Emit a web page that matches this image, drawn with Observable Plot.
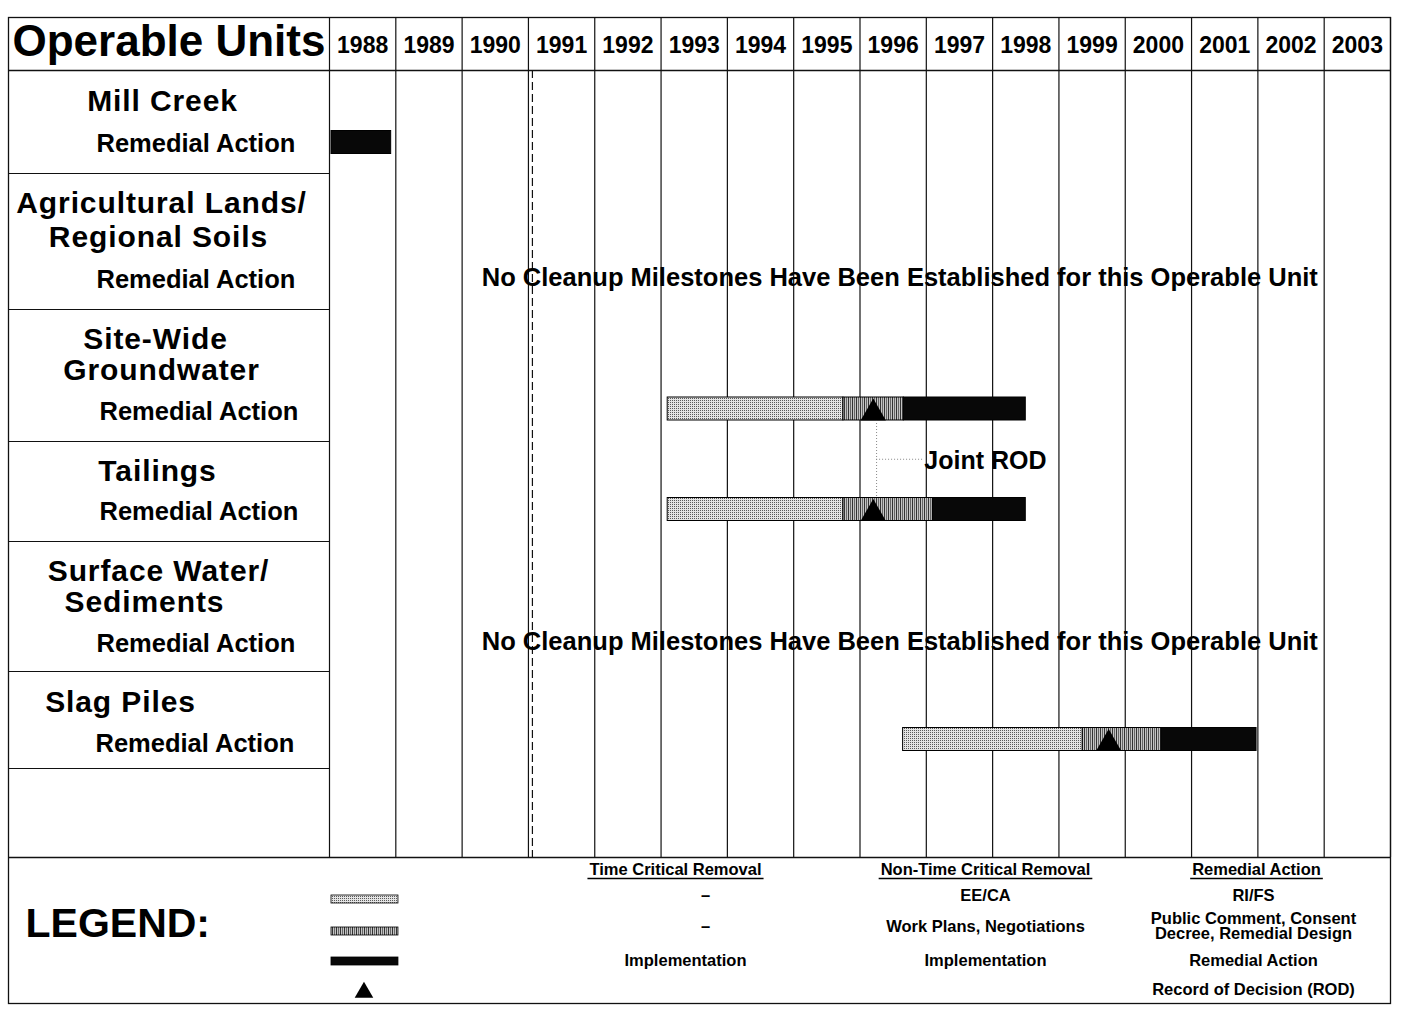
<!DOCTYPE html>
<html><head><meta charset="utf-8">
<script src="https://cdn.jsdelivr.net/npm/d3@7"></script>
<script src="https://cdn.jsdelivr.net/npm/@observablehq/plot@0.6"></script>
<style>html,body{margin:0;padding:0;background:#fff}svg{display:block}</style>
</head><body><div id="chart"></div>
<script>
// ---------------- DATA ----------------
const yearLabels = ["1988","1989","1990","1991","1992","1993","1994","1995","1996","1997","1998","1999","2000","2001","2002","2003"];
const units = ["Mill Creek","Agricultural Lands/Regional Soils","Site-Wide Groundwater","Tailings","Surface Water/Sediments","Slag Piles"];
const unitTitleLines = [["Mill Creek"],["Agricultural Lands/","Regional Soils"],["Site-Wide","Groundwater"],["Tailings"],["Surface Water/","Sediments"],["Slag Piles"]];
const unitSubtitle = "Remedial Action";
const barUnit  = ["Mill Creek","Site-Wide Groundwater","Site-Wide Groundwater","Site-Wide Groundwater","Tailings","Tailings","Tailings","Slag Piles","Slag Piles","Slag Piles"];
const barPhase = ["implementation","study","design","implementation","study","design","implementation","study","design","implementation"];
const barStart = [1988.03, 1993.1, 1995.75, 1996.66, 1993.1, 1995.75, 1997.1, 1996.65, 1999.36, 2000.55];
const barEnd   = [1988.93, 1995.75, 1996.66, 1998.5, 1995.75, 1997.1, 1998.5, 1999.36, 2000.55, 2001.98];
const rodUnit = ["Site-Wide Groundwater","Tailings","Slag Piles"];
const rodYear = [1996.2, 1996.2, 1999.75];
const noMilestoneUnits = ["Agricultural Lands/Regional Soils","Surface Water/Sediments"];
const noMilestoneText = "No Cleanup Milestones Have Been Established for this Operable Unit";
const referenceYear = 1991.06;
const jointRodYear = 1996.25;
const jointRodLabel = "Joint ROD";
const legendColumns = ["Time Critical Removal","Non-Time Critical Removal","Remedial Action"];
const legendTimeCritical = ["–","–","Implementation",""];
const legendNonTimeCritical = ["EE/CA","Work Plans, Negotiations","Implementation",""];
const legendRemedial = ["RI/FS","Public Comment, Consent\nDecree, Remedial Design","Remedial Action","Record of Decision (ROD)"];

// ---------------- LAYOUT ----------------
const W = 1421, H = 1015;
const ML = 8, MT = 17, MR = 31, MB = 12;
const X0 = 329, X1 = 1390;
const FONT = "'Liberation Sans', Arial, Helvetica, sans-serif";
const headerBottom = 70, tableBottom = 857;
const rowSeps = [173, 309, 441, 541, 671, 768];
const titleLayout = {
  "Mill Creek": [[162,101]],
  "Agricultural Lands/Regional Soils": [[161,203],[158,237]],
  "Site-Wide Groundwater": [[155,339],[161,370]],
  "Tailings": [[157,471]],
  "Surface Water/Sediments": [[158,571],[144,602]],
  "Slag Piles": [[120,702]]
};
const subLayout = {"Mill Creek":[96,144],"Agricultural Lands/Regional Soils":[96,280],"Site-Wide Groundwater":[99,412],"Tailings":[99,512],"Surface Water/Sediments":[96,644],"Slag Piles":[95,744]};
const barY = {"Mill Creek":142,"Agricultural Lands/Regional Soils":277,"Site-Wide Groundwater":408.5,"Tailings":509,"Surface Water/Sediments":641,"Slag Piles":739};
const BH = 23;
const TITLE_SIZE = 30;
const phaseFill = {study:"url(#stip)", design:"url(#hatch)", implementation:"#080808"};

const bars = barUnit.map((u,i)=>({unit:u, phase:barPhase[i], start:barStart[i], end:barEnd[i]}));
const rods = rodUnit.map((u,i)=>({unit:u, year:rodYear[i]}));
const yearEdges = yearLabels.map(Number).concat([+yearLabels[yearLabels.length-1]+1]);
const yearsPerPx = (yearEdges[yearEdges.length-1] - yearEdges[0]) / (X1 - X0);
const frameLeftYear = yearEdges[0] - (X0 - ML) * yearsPerPx;

function label(text, x, y, size, anchor="middle", weight="bold") {
  return Plot.text([text], {frameAnchor:"left", dx: x - ML, y: () => y, text: d => d,
    fontSize: size, fontWeight: weight, textAnchor: anchor, fill: "#000", lineHeight: 0.95});
}

const marks = [];
marks.push(Plot.frame({stroke:"#111", strokeWidth:1.3}));
marks.push(Plot.ruleY([headerBottom, tableBottom], {y: d=>d, stroke:"#111", strokeWidth:1.3}));
marks.push(Plot.ruleY(rowSeps, {y: d=>d, x1: () => frameLeftYear, x2: () => yearEdges[0], stroke:"#111", strokeWidth:1.2}));
marks.push(Plot.ruleX(yearEdges, {x: d=>d, y1: () => MT, y2: () => tableBottom, stroke:"#111", strokeWidth:1.2}));
marks.push(Plot.ruleX([referenceYear], {x: d=>d, y1: () => headerBottom, y2: () => tableBottom, stroke:"#111", strokeWidth:1.2, strokeDasharray:"8,4"}));
marks.push(label("Operable Units", 12, 42, 44, "start"));
marks.push(Plot.text(yearLabels, {x: d => +d + 0.5, y: () => 45, text: d=>d, fontSize: 23, fontWeight:"bold", fill:"#000"}));
units.forEach((u,i) => {
  unitTitleLines[i].forEach((t,j) => { const [cx,cy] = titleLayout[u][j]; marks.push(label(t, cx, cy, TITLE_SIZE)); });
  const [sx, sy] = subLayout[u];
  marks.push(label(unitSubtitle, sx, sy, 25.5, "start"));
});
marks.push(Plot.text(noMilestoneUnits, {x: () => 1996.6, y: d => barY[d], text: () => noMilestoneText, fontSize: 25.5, fontWeight:"bold", fill:"#000"}));
for (const ph of ["study","design","implementation"]) {
  marks.push(Plot.rect(bars.filter(b=>b.phase===ph), {x1:"start", x2:"end", y1: d=>barY[d.unit]-BH/2, y2: d=>barY[d.unit]+BH/2, fill: phaseFill[ph], stroke:"#000", strokeWidth:1}));
}
marks.push(Plot.ruleX([jointRodYear], {x:d=>d, y1: () => barY["Site-Wide Groundwater"]+BH/2, y2: () => barY["Tailings"]-BH/2, stroke:"#888", strokeDasharray:"1,2"}));
marks.push(Plot.ruleY([ (barY["Site-Wide Groundwater"]+barY["Tailings"])/2 ], {y:d=>d, x1: () => jointRodYear, x2: () => 1996.97, stroke:"#888", strokeDasharray:"1,2"}));
marks.push(Plot.text([jointRodLabel], {x: () => 1996.97, y: () => 460, text:d=>d, textAnchor:"start", fontSize:25, fontWeight:"bold", fill:"#000"}));
marks.push(Plot.dot(rods, {x:"year", y: d => barY[d.unit]+BH/2-7.4, symbol:"triangle", r:9.4, fill:"#000"}));

marks.push(label("LEGEND:", 25, 924, 41, "start"));
const legRowsY = [899, 931, 961];
["study","design","implementation"].forEach((ph,i) => {
  marks.push(Plot.rect([ph], {x1: () => 1988.03, x2: () => 1989.04, y1: () => legRowsY[i]-4, y2: () => legRowsY[i]+4, fill: phaseFill[ph], stroke:"#000", strokeWidth:0.8}));
});
marks.push(Plot.dot(["ROD"], {x: () => 1988.52, y: () => 992, symbol:"triangle", r:6.9, fill:"#000"}));
const colX = [675, 985, 1256];
legendColumns.forEach((c,i) => marks.push(label(c, colX[i], 869, 16.5)));
const itemY = [895, 926, 960, 989];
[legendTimeCritical, legendNonTimeCritical, legendRemedial].forEach((col, ci) => {
  col.forEach((t, ri) => { if (!t) return;
    const x = ci === 0 && ri < 2 ? 705 : ci === 0 ? 685 : ci === 1 ? 985 : 1253;
    marks.push(label(t, x, itemY[ri], 16.5));
  });
});

const svg = Plot.plot({
  width: W, height: H, marginLeft: ML, marginTop: MT, marginRight: MR, marginBottom: MB,
  x: {domain: [yearEdges[0], yearEdges[yearEdges.length-1]], range: [X0, X1], axis: null},
  y: {domain: [0, H], range: [0, H], axis: null},
  style: {fontFamily: FONT, background: "#fff", color: "#000"},
  marks
});
d3.select(svg).insert("defs", ":first-child").html(`
  <pattern id="stip" width="2" height="2" patternUnits="userSpaceOnUse">
    <rect width="2" height="2" fill="#e4e4e4"/><rect width="1" height="1" fill="#5a5a5a"/>
  </pattern>
  <pattern id="hatch" width="4" height="4" patternUnits="userSpaceOnUse">
    <rect width="4" height="4" fill="#c4c4c4"/><rect x="0" width="1" height="4" fill="#333"/><rect x="2" width="1" height="4" fill="#666"/>
  </pattern>`);
// unit titles: slightly wider tracking, like the original typeface
d3.select(svg).selectAll(`g[font-size="${TITLE_SIZE}"]`).attr("letter-spacing", "0.9");
document.getElementById("chart").appendChild(svg);
const sr = svg.getBoundingClientRect();
d3.select(svg).selectAll("text").each(function() {
  const r = this.getBoundingClientRect();
  const top = r.top - sr.top;
  if (legendColumns.includes(this.textContent) && top > 850 && top < 880) {
    d3.select(svg).append("line")
      .attr("x1", r.left - sr.left - 2).attr("x2", r.right - sr.left + 2)
      .attr("y1", r.bottom - sr.top + 1).attr("y2", r.bottom - sr.top + 1)
      .attr("stroke","#000").attr("stroke-width",1.5);
  }
});
</script></body></html>
